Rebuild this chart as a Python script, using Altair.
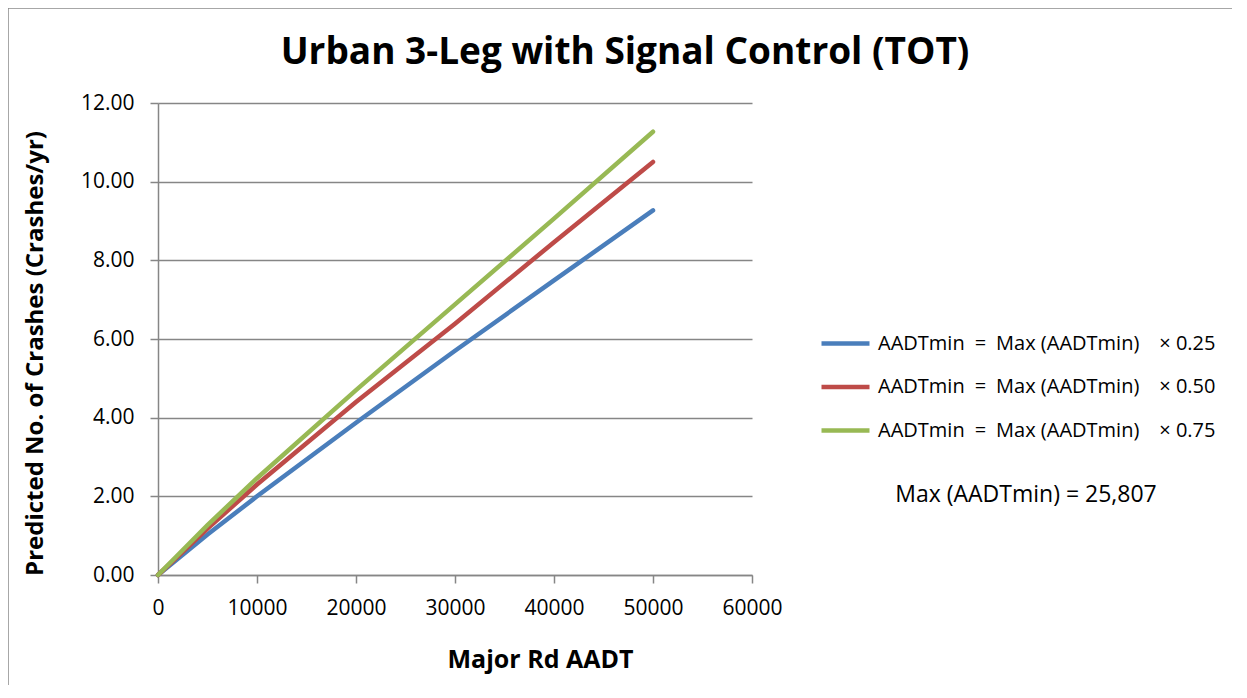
import altair as alt
import pandas as pd

aadt_major = [0, 5000, 10000, 20000, 30000, 40000, 50000]
series_names = [
    "AADTmin\u2002=\u2002Max (AADTmin)\u2002\u2002× 0.25",
    "AADTmin\u2002=\u2002Max (AADTmin)\u2002\u2002× 0.50",
    "AADTmin\u2002=\u2002Max (AADTmin)\u2002\u2002× 0.75",
]
crashes_025 = [0.0, 1.03, 2.00, 3.87, 5.70, 7.49, 9.27]
crashes_050 = [0.0, 1.18, 2.30, 4.40, 6.39, 8.46, 10.50]
crashes_075 = [0.0, 1.27, 2.46, 4.70, 6.88, 9.06, 11.27]
colors = ["#4A7EBB", "#BE4B48", "#98B954"]
x_ticks = [0, 10000, 20000, 30000, 40000, 50000, 60000]
y_ticks = [0, 2, 4, 6, 8, 10, 12]
note = "Max (AADTmin) = 25,807"

rows = []
for name, vals in zip(series_names, [crashes_025, crashes_050, crashes_075]):
    for x, y in zip(aadt_major, vals):
        rows.append({"aadt": x, "crashes": y, "series": name})
df = pd.DataFrame(rows)

FONT = "Open Sans"
W, H = 594, 472

lines = alt.Chart(df).mark_line(strokeWidth=4.5, strokeCap="round").encode(
    x=alt.X("aadt:Q",
            scale=alt.Scale(domain=[0, 60000], nice=False),
            axis=alt.Axis(values=x_ticks, title="Major Rd AADT", format="d",
                          grid=False, titleX=382, titleY=84, labelPadding=14,
                          titleFontSize=25, labelFlush=False,
                          titleBaseline="middle", titleAlign="center")),
    y=alt.Y("crashes:Q",
            scale=alt.Scale(domain=[0, 12], nice=False),
            axis=alt.Axis(values=y_ticks, title="Predicted No. of Crashes (Crashes/yr)",
                          format=".2f", grid=True, titleX=-123, titleY=250,
                          labelPadding=16, titleFontSize=24, labelFlush=False,
                          titleAngle=-90, titleBaseline="middle", titleAlign="center")),
    color=alt.Color("series:N",
                    scale=alt.Scale(domain=series_names, range=colors),
                    legend=alt.Legend(title=None, orient="none", legendX=661, legendY=214,
                                      symbolType="stroke", symbolStrokeWidth=4.5,
                                      symbolSize=2304, labelFontSize=20, labelFont=FONT,
                                      labelColor="#000000", labelOffset=6,
                                      rowPadding=6.5, labelLimit=600)),
)

note_text = alt.Chart(pd.DataFrame({"t": [note]})).mark_text(
    font=FONT, fontSize=23, color="#000000", align="center", baseline="middle"
).encode(x=alt.value(868), y=alt.value(392), text="t:N")

border = alt.Chart(pd.DataFrame({"a": [0]})).mark_rect(
    fill=None, stroke="#8A8A8A", strokeWidth=1.5
).encode(x=alt.value(-150), x2=alt.value(1079), y=alt.value(-95), y2=alt.value(585))

chart = alt.layer(border, lines, note_text).properties(
    width=W, height=H,
    title=alt.TitleParams("Urban 3-Leg with Signal Control (TOT)", font=FONT, fontSize=37,
                          fontWeight="bold", color="#000000", anchor="middle", dx=170,
                          dy=131, frame="group", baseline="alphabetic", offset=37),
    autosize=alt.AutoSizeParams(type="none"),
    padding={"left": 150, "top": 95, "right": 480, "bottom": 110},
).configure_view(stroke=None).configure_axis(
    domainColor="#868686", tickColor="#868686", gridColor="#868686",
    domainWidth=1.5, tickWidth=1.5, gridWidth=1.5, tickSize=8,
    labelFont=FONT, labelFontSize=21, labelColor="#000000",
    titleFont=FONT, titleFontWeight="bold", titleColor="#000000",
)

chart.save("out.html", embed_options={"renderer": "svg", "actions": False})
